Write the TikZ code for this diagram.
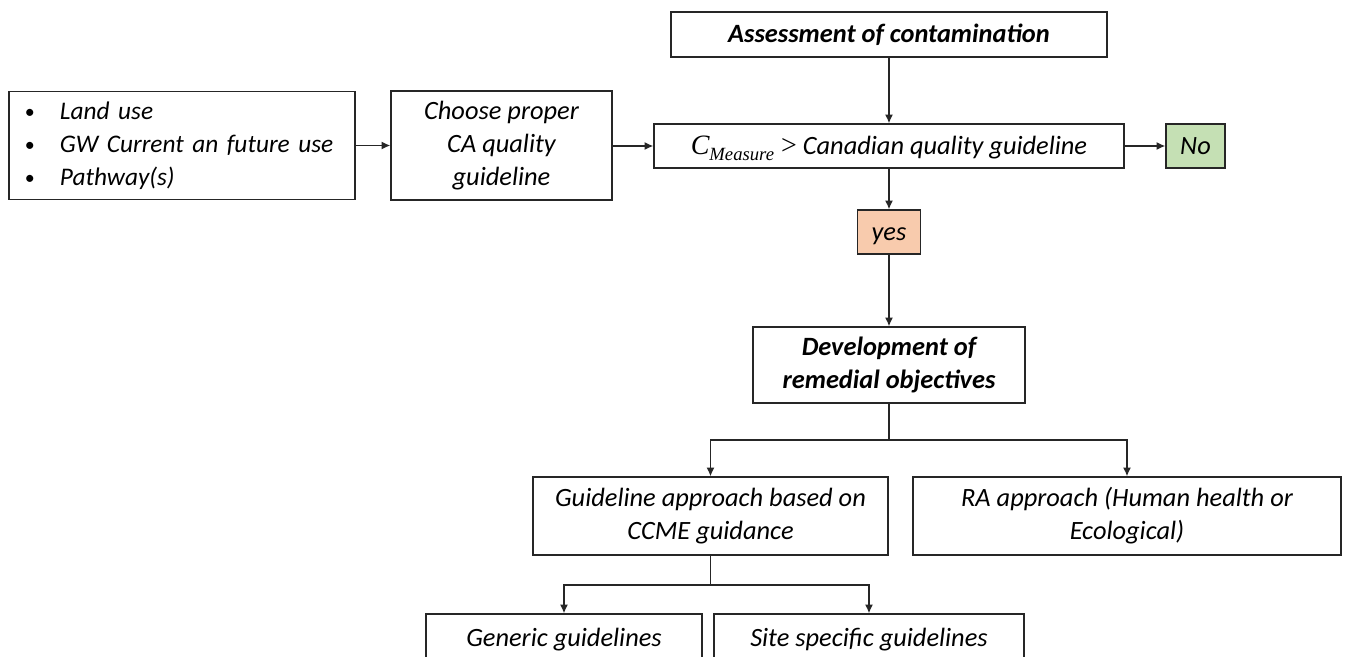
\documentclass[tikz,border=0pt]{standalone}
\usepackage{fontspec}
\setmainfont{Carlito}
\newfontfamily\formulafont{Liberation Serif}
\usetikzlibrary{arrows.meta}
\definecolor{nogreen}{HTML}{C5E0B4}
\definecolor{yesorange}{HTML}{F8CBAD}
\definecolor{edge}{HTML}{262626}
\newcommand{\cmeasure}{{\formulafont\itshape\fontsize{21}{24}\selectfont C\raisebox{-0.5ex}{\fontsize{14}{14}\selectfont Measure}\ \upshape >}}
\newcommand{\listdot}{{\upshape\fontsize{15}{15}\selectfont\raisebox{0.6pt}{\textbullet}}}
\begin{document}
\begin{tikzpicture}[x=0.75pt,y=-0.75pt,
  frame/.style={draw=edge, line width=1.05pt, inner sep=0pt, align=center,
    font=\itshape\fontsize{19.8}{24.75}\selectfont},
  boldframe/.style={frame, font=\bfseries\itshape\fontsize{19.8}{24.75}\selectfont},
  box/.style={frame, text height=16.6pt, text depth=4pt},
  boldbox/.style={boldframe, text height=16.6pt, text depth=4pt},
  link/.style={line width=1.05pt, draw=edge, -{Latex[length=6.5pt,width=6pt]}},
  plain/.style={line width=1.05pt, draw=edge},
]
\useasboundingbox (0,0) rectangle (1347,657);
\fill[white] (0,0) rectangle (1347,657);

% top row
\node[frame, align=left, text width=235.5pt, inner xsep=12pt, minimum height=81pt,
      font=\itshape\fontsize{19}{24.75}\selectfont] (uses) at (182,145.5)
  {\begin{tabular}{@{}p{26.25pt}@{}l@{}}
     \listdot & Land use\\
     \listdot & GW Current an future use\\
     \listdot & Pathway(s)
   \end{tabular}};
\node[frame, minimum width=165.75pt, minimum height=81.75pt] (choose) at (501.5,145.5)
  {Choose proper\\CA quality\\guideline};
\node[boldbox, minimum width=327pt, minimum height=33.75pt] (assess) at (889,34.5)
  {Assessment of contamination};
\node[box, minimum width=352.5pt, minimum height=33pt] (cm) at (889,146)
  {\cmeasure\ Canadian quality guideline};
\node[box, fill=nogreen, minimum width=44.25pt, minimum height=33pt] (no) at (1195.5,146) {No};
\node[box, fill=yesorange, minimum width=47.25pt, minimum height=33pt] (yes) at (889,232) {yes};

% objectives
\node[boldframe, minimum width=204pt, minimum height=57pt] (dev) at (889,365)
  {Development of\\remedial objectives};
\node[frame, minimum width=266.25pt, minimum height=58.5pt] (guide) at (710.5,516)
  {Guideline approach based on\\CCME guidance};
\node[frame, minimum width=321pt, minimum height=58.5pt] (ra) at (1127,516)
  {RA approach (Human health or\\Ecological)};
\node[box, minimum width=207pt, minimum height=36pt] (generic) at (564,638)
  {Generic guidelines};
\node[box, minimum width=232.5pt, minimum height=36pt] (site) at (869,638)
  {Site specific guidelines};

% connectors
\draw[link] (uses.east) -- (uses.east -| choose.west);
\draw[link] (choose.east |- cm.west) -- (cm.west);
\draw[link] (assess.south) -- (cm.north);
\draw[link] (cm.east) -- (no.west);
\draw[link] (cm.south) -- (yes.north);
\draw[link] (yes.south) -- (dev.north);

\coordinate (j1) at (889,440);
\draw[plain] (dev.south) -- (j1);
\draw[link] (j1) -| (guide.north);
\draw[link] (j1) -| (ra.north);

\coordinate (j2) at (710.5,585);
\draw[plain] (guide.south) -- (j2);
\draw[link] (j2) -| (generic.north);
\draw[link] (j2) -| (site.north);
\end{tikzpicture}
\end{document}
